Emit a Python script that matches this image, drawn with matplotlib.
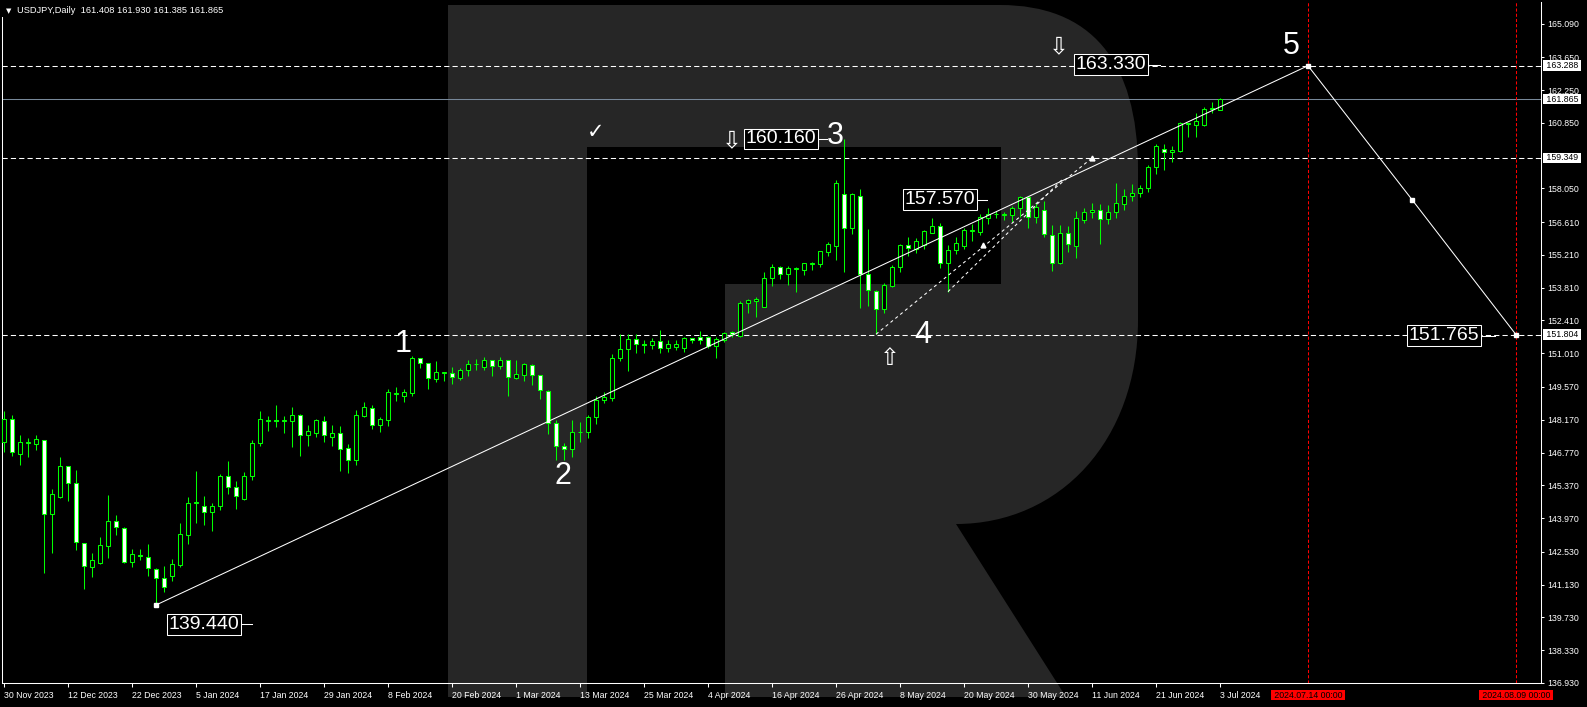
import matplotlib
matplotlib.use("Agg")
import matplotlib.pyplot as plt
import numpy as np
from matplotlib.path import Path
from matplotlib.patches import PathPatch, Rectangle
from matplotlib.transforms import Affine2D, blended_transform_factory

plt.rcParams['font.family'] = ['Liberation Sans', 'DejaVu Sans']

W, H = 1587, 707

# ---------------- data (USDJPY daily, 30 Nov 2023 .. 3 Jul 2024) ----------------
opens = [147.21, 148.21, 146.70, 147.18, 147.13, 147.30, 144.13, 144.89, 146.19, 145.46,
         142.90, 141.88, 142.05, 142.78, 143.84, 143.53, 142.08, 142.40, 142.33, 141.80,
         141.40, 141.52, 141.95, 143.27, 144.60, 144.48, 144.23, 144.47, 145.76, 145.29,
         144.78, 145.76, 147.17, 148.12, 148.16, 148.12, 148.11, 148.36, 147.51, 147.62,
         148.11, 147.45, 147.60, 146.96, 146.45, 148.35, 148.66, 147.94, 148.14, 149.27,
         149.20, 149.33, 150.80, 150.58, 149.93, 150.18, 150.16, 149.96, 150.29, 150.54,
         150.41, 150.71, 150.48, 150.71, 149.97, 150.07, 150.50, 150.07, 149.40, 148.02,
         147.06, 146.94, 147.63, 147.63, 148.27, 149.03, 149.12, 150.80, 151.18, 151.61,
         151.40, 151.38, 151.52, 151.25, 151.29, 151.24, 151.65, 151.69, 151.69, 151.31,
         151.58, 151.92, 151.76, 153.14, 153.23, 153.00, 154.24, 154.69, 154.38, 154.62,
         154.55, 154.83, 154.81, 155.35, 155.60, 157.79, 156.34, 157.73, 154.38, 153.67,
         152.91, 153.87, 154.68, 155.62, 155.47, 155.65, 156.16, 156.44, 154.88, 155.40,
         155.59, 156.22, 156.17, 156.80, 156.94, 156.92, 156.90, 157.20, 157.67, 156.81,
         157.14, 156.04, 154.85, 156.13, 155.60, 156.68, 157.03, 157.11, 156.73, 157.03,
         157.37, 157.71, 157.84, 158.05, 158.95, 159.74, 159.60, 159.66, 160.80, 160.76,
         160.74, 161.44, 161.408]
highs = [148.55, 148.38, 147.53, 147.38, 147.53, 147.32, 145.22, 146.59, 146.21, 146.03,
         142.92, 142.49, 143.17, 144.97, 144.11, 143.60, 142.66, 142.66, 142.88, 141.82,
         141.94, 142.24, 143.76, 144.89, 145.99, 144.92, 144.62, 145.86, 146.42, 145.56,
         145.95, 147.31, 148.55, 148.34, 148.81, 148.34, 148.72, 148.42, 147.94, 148.21,
         148.32, 147.94, 147.91, 147.13, 148.59, 148.93, 148.81, 148.29, 149.49, 149.57,
         149.49, 150.90, 150.82, 150.60, 150.67, 150.23, 150.41, 150.40, 150.71, 150.77,
         150.85, 150.73, 150.85, 150.73, 150.73, 150.60, 150.56, 150.09, 149.42, 148.17,
         147.17, 148.15, 148.08, 148.38, 149.19, 149.36, 150.99, 151.82, 151.82, 151.82,
         151.58, 151.65, 152.00, 151.56, 151.58, 151.72, 151.67, 151.95, 151.75, 151.71,
         151.92, 151.98, 153.24, 153.33, 153.43, 154.48, 154.84, 154.75, 154.75, 154.68,
         154.87, 154.89, 155.38, 155.77, 158.42, 160.18, 157.85, 158.02, 156.30, 153.69,
         154.02, 154.78, 155.67, 155.99, 155.93, 156.29, 156.80, 156.56, 155.63, 155.99,
         156.37, 156.54, 156.95, 157.20, 157.08, 157.05, 157.30, 157.72, 157.69, 157.44,
         157.52, 156.49, 156.47, 156.46, 157.08, 157.20, 157.41, 157.38, 157.34, 158.26,
         158.02, 158.22, 158.18, 159.04, 159.95, 159.93, 159.88, 160.89, 160.86, 161.29,
         161.53, 161.76, 161.930]
lows = [146.81, 146.63, 146.22, 146.56, 146.90, 141.61, 142.50, 144.81, 144.72, 142.62,
        140.93, 141.44, 142.03, 142.25, 143.27, 142.05, 141.87, 142.19, 141.52, 140.26,
        140.80, 141.27, 141.87, 142.85, 143.77, 143.66, 143.40, 144.30, 144.98, 144.34,
        144.76, 145.58, 147.03, 147.67, 147.84, 147.62, 146.99, 146.64, 147.07, 147.43,
        147.24, 147.06, 145.99, 145.88, 146.22, 148.27, 147.78, 147.63, 147.91, 148.98,
        148.91, 149.19, 150.36, 149.50, 149.80, 149.84, 149.69, 149.86, 150.06, 150.29,
        150.29, 150.06, 150.34, 149.19, 149.93, 149.84, 149.67, 149.07, 147.58, 146.47,
        146.47, 146.59, 147.23, 147.40, 148.01, 148.90, 148.98, 150.70, 150.27, 151.01,
        151.01, 151.21, 151.01, 151.08, 151.17, 151.08, 151.44, 151.41, 151.22, 150.80,
        151.51, 151.69, 151.69, 152.74, 152.57, 152.97, 153.89, 154.17, 153.94, 153.61,
        154.37, 154.55, 154.71, 155.18, 154.99, 154.49, 156.09, 152.96, 153.04, 151.82,
        152.74, 153.85, 154.48, 155.18, 155.29, 155.47, 156.14, 154.66, 153.64, 155.23,
        155.47, 155.82, 156.06, 156.51, 156.77, 156.70, 156.63, 156.83, 156.37, 156.56,
        155.99, 154.52, 154.83, 155.33, 155.09, 156.58, 156.80, 155.69, 156.54, 156.80,
        157.14, 157.52, 157.69, 157.91, 158.66, 158.83, 159.17, 159.60, 160.25, 160.25,
        160.72, 161.25, 161.385]
closes = [148.21, 146.81, 147.21, 147.22, 147.34, 144.14, 144.99, 146.19, 145.46, 142.95,
          141.92, 142.18, 142.82, 143.84, 143.59, 142.08, 142.43, 142.36, 141.84, 141.40,
          141.03, 142.01, 143.29, 144.61, 144.64, 144.23, 144.48, 145.76, 145.29, 144.91,
          145.76, 147.17, 148.19, 148.16, 148.12, 148.16, 148.36, 147.51, 147.68, 148.15,
          147.51, 147.60, 146.94, 146.45, 148.37, 148.71, 147.94, 148.21, 149.35, 149.31,
          149.35, 150.80, 150.61, 149.94, 150.20, 150.20, 149.99, 150.29, 150.54, 150.56,
          150.71, 150.48, 150.71, 149.99, 150.11, 150.56, 150.07, 149.43, 148.02, 147.07,
          146.94, 147.64, 147.65, 148.28, 149.02, 149.13, 150.80, 151.18, 151.62, 151.41,
          151.38, 151.52, 151.25, 151.39, 151.39, 151.65, 151.58, 151.56, 151.32, 151.61,
          151.86, 151.82, 153.14, 153.27, 153.33, 154.24, 154.71, 154.38, 154.64, 154.66,
          154.86, 154.86, 155.36, 155.66, 158.30, 156.34, 157.79, 154.38, 153.70, 152.89,
          153.91, 154.69, 155.63, 155.49, 155.80, 156.23, 156.44, 154.88, 155.40, 155.70,
          156.26, 156.26, 156.83, 156.94, 156.96, 156.94, 157.21, 157.69, 156.81, 157.24,
          156.09, 154.88, 156.13, 155.66, 156.77, 157.03, 157.11, 156.73, 157.03, 157.41,
          157.71, 157.84, 158.05, 158.95, 159.84, 159.60, 159.69, 160.86, 160.84, 160.91,
          161.46, 161.47, 161.865]

tick_bars = list(range(0, 153, 8))
tick_labels = ["30 Nov 2023", "12 Dec 2023", "22 Dec 2023", "5 Jan 2024", "17 Jan 2024",
               "29 Jan 2024", "8 Feb 2024", "20 Feb 2024", "1 Mar 2024", "13 Mar 2024",
               "25 Mar 2024", "4 Apr 2024", "16 Apr 2024", "26 Apr 2024", "8 May 2024",
               "20 May 2024", "30 May 2024", "11 Jun 2024", "21 Jun 2024", "3 Jul 2024"]
price_ticks = [165.090, 163.650, 162.250, 160.850, 158.050, 156.610, 155.210, 153.810,
               152.410, 151.010, 149.570, 148.170, 146.770, 145.370, 143.970, 142.530,
               141.130, 139.730, 138.330, 136.930]

level_lines = [163.288, 159.349, 151.804]
bid_price = 161.865
future_bars = [163, 189]
future_labels = ["2024.07.14 00:00", "2024.08.09 00:00"]

wave_bars = [19, 163, 176, 189]
wave_prices = [140.26, 163.288, 157.57, 151.804]

channel1_bars = [109, 136]
channel1_prices = [151.82, 159.35]
channel2_bars = [118, 132.4]
channel2_prices = [153.64, 158.47]
channel_arrow_bars = [122.4, 136]
channel_arrow_prices = [155.64, 159.35]

wave_names = ["1", "2", "3", "4", "5"]
wave_name_bars = [49.9, 69.85, 103.9, 114.9, 160.9]
wave_name_prices = [151.42, 145.75, 160.29, 151.80, 164.15]

box_texts = ["139.440", "160.160", "157.570", "163.330", "151.765"]
box_bars = [25.0, 97.1, 117.0, 138.4, 180.0]
box_prices = [139.44, 160.16, 157.57, 163.33, 151.765]
box_dash = [(29.7, 31.0), (101.75, 102.85), (121.7, 122.9), (143.1, 144.5), (184.6, 186.4)]

symbols = ["\u21e9", "\u21e9", "\u21e7", "\u2713"]
symbol_bars = [91.0, 131.9, 110.75, 73.9]
symbol_prices = [160.10, 164.13, 150.80, 160.47]
symbol_sizes = [17, 17, 17, 15]

header = "USDJPY,Daily  161.408 161.930 161.385 161.865"

# ---------------- figure ----------------
fig = plt.figure(figsize=(W / 100, H / 100), dpi=100, facecolor='black')
ax = fig.add_axes([2 / W, (H - 683) / H, (1541 - 2) / W, (683 - 2) / H])
ax.set_facecolor('none')
ax.set_xlim(-0.25, 192.125)
ax.set_ylim(136.946, 166.009)

pix = Affine2D().scale(1.0 / W, -1.0 / H).translate(0, 1) + fig.transFigure

# watermark logo (decoration)
verts = [(448, 5), (1000, 5), (1090, 5), (1138, 60), (1138, 170), (1138, 320),
         (1138, 440), (1060, 524), (956, 524), (1066, 697), (725, 697), (725, 284),
         (1001, 284), (1001, 147), (587, 147), (587, 697), (448, 697), (448, 5)]
codes = [Path.MOVETO, Path.LINETO, Path.CURVE4, Path.CURVE4, Path.CURVE4, Path.LINETO,
         Path.CURVE4, Path.CURVE4, Path.CURVE4, Path.LINETO, Path.LINETO, Path.LINETO,
         Path.LINETO, Path.LINETO, Path.LINETO, Path.LINETO, Path.LINETO, Path.CLOSEPOLY]
logo = PathPatch(Path(verts, codes), transform=pix, facecolor='#262626',
                 edgecolor='none', zorder=-5)
fig.add_artist(logo)

green = '#00ff00'
lw = 0.75

# levels
for lv in level_lines:
    ax.axhline(lv, color='white', lw=lw, ls=(0, (5, 3)), zorder=2)
ax.axhline(bid_price, color='#778899', lw=lw, zorder=2)
for fb in future_bars:
    ax.axvline(fb, color='#ff0000', lw=lw, ls=(0, (3, 2)), zorder=2)

# candles
x = np.arange(len(opens))
o = np.array(opens)
c = np.array(closes)
bull = c >= o
ax.vlines(x, lows, highs, color=green, lw=lw, zorder=3)
ax.bar(x, np.abs(c - o), bottom=np.minimum(o, c), width=0.5,
       color=np.where(bull, 'black', 'white'), edgecolor=green, linewidth=lw, zorder=4)

# wave lines
ax.plot(wave_bars[:2], wave_prices[:2], color='white', lw=lw, zorder=5)
ax.plot(wave_bars[1:], wave_prices[1:], color='white', lw=lw, zorder=5)
ax.plot(wave_bars, wave_prices, ls='none', marker='s', ms=3, mfc='white', mec='white',
        zorder=6, clip_on=False)
ax.plot(channel1_bars, channel1_prices, color='white', lw=lw, ls=(0, (3, 3)), zorder=5)
ax.plot(channel2_bars, channel2_prices, color='white', lw=lw, ls=(0, (3, 3)), zorder=5)
ax.plot(channel_arrow_bars, channel_arrow_prices, ls='none', marker='^',
        ms=3.5, color='white', zorder=6)

# wave names
for t, bx, py in zip(wave_names, wave_name_bars, wave_name_prices):
    ax.text(bx, py, t, color='white', fontsize=22, ha='center', va='center', zorder=7)

# price boxes
for t, bx, py, (d0, d1) in zip(box_texts, box_bars, box_prices, box_dash):
    ax.plot([d0, d1], [py, py], color='white', lw=lw, zorder=6)
    ax.text(bx, py, t, color='white', fontsize=14, ha='center', va='center', zorder=7,
            bbox=dict(boxstyle='square,pad=0.1', fc='black', ec='white', lw=lw))

# symbols
for s, bx, py, fs in zip(symbols, symbol_bars, symbol_prices, symbol_sizes):
    ax.text(bx, py, s, color='white', fontsize=fs, ha='center', va='center',
            family='DejaVu Sans', zorder=7)

# axes styling
for side in ['left', 'bottom', 'right']:
    ax.spines[side].set_color('white')
    ax.spines[side].set_linewidth(lw)
ax.spines['top'].set_visible(False)
ax.yaxis.tick_right()
ax.set_yticks(price_ticks)
ax.set_yticklabels([f"{v:.3f}" for v in price_ticks])
ax.tick_params(axis='y', colors='white', length=2.2, width=lw, pad=2.4, labelsize=6.3,
               left=False, right=True)
ax.set_xticks(tick_bars)
ax.set_xticklabels(tick_labels)
ax.tick_params(axis='x', colors='white', length=3, width=lw, pad=2.5, labelsize=6.3)
for lab in ax.get_xticklabels():
    lab.set_ha('left')

# right-axis price boxes
ytr = blended_transform_factory(pix, ax.transData)
for pv in level_lines + [bid_price]:
    ax.text(1543.5, pv, f" {pv:.3f} ", transform=ytr, color='black', fontsize=6.3,
            ha='left', va='center', zorder=8, clip_on=False,
            bbox=dict(boxstyle='square,pad=0.1', fc='white', ec='none'))

# future date labels
xtr = blended_transform_factory(ax.transData, pix)
for fb, t in zip(future_bars, future_labels):
    ax.text(fb, 695, f" {t} ", transform=xtr, color='black', fontsize=6.3, ha='center',
            va='center', zorder=8, clip_on=False,
            bbox=dict(boxstyle='square,pad=0.1', fc='#ff0000', ec='none'))

# header (black strip hides the frame top-left, as in the terminal)
fig.add_artist(Rectangle((0, 0), 232, 17, transform=pix, facecolor='black',
                         edgecolor='none', zorder=10))
fig.text(9 / W, 1 - 10.7 / H, "\u25bc", color='white', fontsize=5, ha='center', va='center',
         family=['DejaVu Sans'], zorder=11)
fig.text(17.3 / W, 1 - 10.7 / H, header, color='white', fontsize=6.7, ha='left',
         va='center', zorder=11)

fig.savefig("out.png", dpi=100, facecolor='black')
